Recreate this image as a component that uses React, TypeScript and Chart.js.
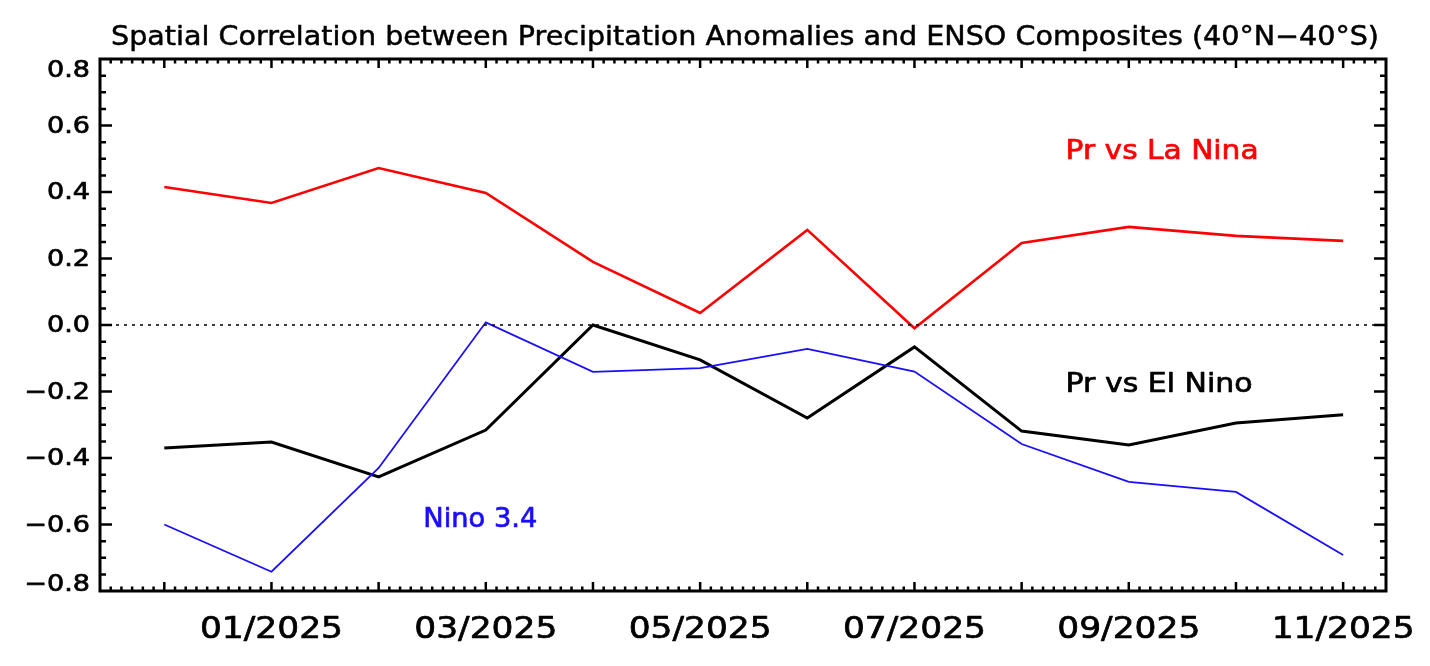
import React, { useEffect, useRef } from "react";
import { Chart, registerables } from "chart.js";

Chart.register(...registerables);

const months = ["12/2024", "01/2025", "02/2025", "03/2025", "04/2025", "05/2025", "06/2025", "07/2025", "08/2025", "09/2025", "10/2025", "11/2025"];
const laNina = [0.415, 0.367, 0.472, 0.397, 0.19, 0.036, 0.286, -0.01, 0.247, 0.295, 0.268, 0.253];
const elNino = [-0.37, -0.352, -0.457, -0.316, 0.0, -0.105, -0.28, -0.066, -0.319, -0.361, -0.295, -0.27];
const nino34 = [-0.6, -0.742, -0.43, 0.008, -0.141, -0.13, -0.072, -0.14, -0.358, -0.472, -0.502, -0.692];
const yTickLabels = [-0.8, -0.6, -0.4, -0.2, 0.0, 0.2, 0.4, 0.6, 0.8];
const titleText = "Spatial Correlation between Precipitation Anomalies and ENSO Composites (40\u00B0N\u221240\u00B0S)";
const FONT = '"DejaVu Sans", sans-serif';

function fitText(ctx: CanvasRenderingContext2D, text: string, x: number, y: number, width: number, align: "left" | "center" | "right", baseline: CanvasTextBaseline, stroke = 0.7) {
  ctx.save();
  ctx.textAlign = "left";
  ctx.textBaseline = baseline;
  const w = ctx.measureText(text).width;
  const sx = width / w;
  ctx.translate(x, y);
  ctx.scale(sx, 1);
  const dx = align === "left" ? 0 : align === "center" ? -w / 2 : -w;
  ctx.fillText(text, dx, 0);
  if (stroke > 0) {
    ctx.strokeStyle = ctx.fillStyle as string;
    ctx.lineWidth = stroke;
    ctx.lineJoin = "round";
    ctx.strokeText(text, dx, 0);
  }
  ctx.restore();
}

function fmtY(v: number) {
  const s = Math.abs(v).toFixed(1);
  return v < -1e-9 ? "\u2212" + s : s;
}

const idlPlugin = {
  id: "idlFrame",
  afterDraw(chart: any) {
    const ctx: CanvasRenderingContext2D = chart.ctx;
    const { left, right, top, bottom } = chart.chartArea;
    const xs = chart.scales.x;
    const ys = chart.scales.y;
    ctx.save();
    ctx.strokeStyle = "#000";
    ctx.fillStyle = "#000";
    // ticks
    ctx.lineWidth = 2.5;
    ctx.beginPath();
    for (let i = -5; i <= 113; i++) {
      const v = i / 10;
      const px = xs.getPixelForValue(v);
      if (px <= left + 1 || px >= right - 1) continue;
      const len = i % 10 === 0 ? 9 : 4.5;
      ctx.moveTo(px, bottom);
      ctx.lineTo(px, bottom - len);
      ctx.moveTo(px, top);
      ctx.lineTo(px, top + len);
    }
    for (let i = -16; i <= 16; i++) {
      const v = i * 0.05;
      const py = ys.getPixelForValue(v);
      if (py <= top + 1 || py >= bottom - 1) continue;
      const len = i % 4 === 0 ? 12 : 6;
      ctx.moveTo(left, py);
      ctx.lineTo(left + len, py);
      ctx.moveTo(right, py);
      ctx.lineTo(right - len, py);
    }
    ctx.stroke();
    // frame
    ctx.lineWidth = 3;
    ctx.strokeRect(left, top, right - left, bottom - top);

    // y labels
    ctx.font = "23px " + FONT;
    const baseW = ctx.measureText("0.0").width;
    const sy = 43 / baseW;
    yTickLabels.forEach((v, i) => {
      const t = fmtY(v);
      const w = ctx.measureText(t).width * sy;
      let py = ys.getPixelForValue(v) + 1.5;
      if (i === yTickLabels.length - 1) py = ys.getPixelForValue(v) + 12;
      if (i === 0) py = ys.getPixelForValue(v) - 6;
      fitText(ctx, t, left - 10, py, w, "right", "middle");
    });
    // x labels
    ctx.font = "30px " + FONT;
    const bw = ctx.measureText("01/2025").width;
    const sxl = 143 / bw;
    months.forEach((m, i) => {
      if (i % 2 === 1) {
        const w = ctx.measureText(m).width * sxl;
        fitText(ctx, m, xs.getPixelForValue(i), bottom + 47, w, "center", "alphabetic");
      }
    });
    // title
    ctx.font = "27px " + FONT;
    fitText(ctx, titleText, (left + right) / 2 + 2, 37, 1268, "center", "alphabetic", 0.5);
    // annotations
    ctx.font = "27px " + FONT;
    ctx.fillStyle = "#ff0000";
    fitText(ctx, "Pr vs La Nina", xs.getPixelForValue(8.41), ys.getPixelForValue(0.499), 193, "left", "alphabetic");
    ctx.fillStyle = "#000000";
    fitText(ctx, "Pr vs El Nino", xs.getPixelForValue(8.41), ys.getPixelForValue(-0.2015), 187, "left", "alphabetic");
    ctx.fillStyle = "#1a0dff";
    fitText(ctx, "Nino 3.4", xs.getPixelForValue(2.417), ys.getPixelForValue(-0.6075), 114, "left", "alphabetic");
    ctx.restore();
  },
};

export default function App() {
  const ref = useRef<HTMLCanvasElement>(null);
  useEffect(() => {
    if (!ref.current) return;
    const toXY = (arr: number[]) => arr.map((v, i) => ({ x: i, y: v }));
    const chart = new Chart(ref.current, {
      type: "line",
      data: {
        datasets: [
          {
            data: [{ x: -0.6, y: 0 }, { x: 11.4, y: 0 }],
            borderColor: "#000",
            borderWidth: 1.6,
            borderDash: [3, 5],
            pointRadius: 0,
          },
          { label: "Nino 3.4", data: toXY(nino34), borderColor: "#1a0dff", borderWidth: 1.8, pointRadius: 0 },
          { label: "Pr vs El Nino", data: toXY(elNino), borderColor: "#000000", borderWidth: 3, pointRadius: 0 },
          { label: "Pr vs La Nina", data: toXY(laNina), borderColor: "#ff0000", borderWidth: 2.6, pointRadius: 0 },
        ],
      },
      options: {
        animation: false,
        responsive: true,
        maintainAspectRatio: false,
        layout: { padding: { left: 92, top: 51, right: 36, bottom: 67 } },
        plugins: { legend: { display: false }, title: { display: false }, tooltip: { enabled: false } },
        elements: { line: { tension: 0 } },
        scales: {
          x: { type: "linear", min: -0.6, max: 11.4, display: false },
          y: { type: "linear", min: -0.8, max: 0.8, display: false },
        },
      },
      plugins: [idlPlugin],
    });
    return () => chart.destroy();
  }, []);
  return (
    <div style={{ width: 1414, height: 650, position: "relative", background: "#fff" }}>
      <canvas ref={ref} />
    </div>
  );
}
